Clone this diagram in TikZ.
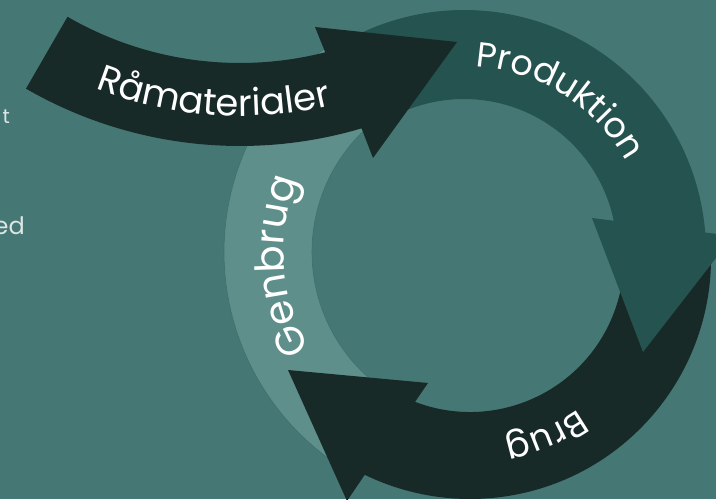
\documentclass[tikz,border=0pt]{standalone}
\usepackage{fontspec}
\usetikzlibrary{decorations.text}
\newfontfamily\pop{Poppins}
\definecolor{bg}{HTML}{457775}
\definecolor{gen}{HTML}{5E8F8B}
\definecolor{genedge}{HTML}{40706C}
\definecolor{prod}{HTML}{245350}
\definecolor{dark}{HTML}{182A28}
\definecolor{side}{HTML}{DCE6E4}
\begin{document}
\begin{tikzpicture}[x=1pt,y=1pt,
  lbl/.style 2 args={decorate, decoration={text along path, text align=center, text={|\color{white}\pop\fontsize{#1}{#1}\selectfont|#2}}},
  sidetext/.style={anchor=base east, inner sep=0pt, text=side}]
\useasboundingbox (0,0) rectangle (716,499);
\fill[bg] (0,0) rectangle (716,499);
\clip (0,0) rectangle (716,499);
\coordinate (PC) at (464,247);
\coordinate (BC) at (470,241);
\coordinate (GC) at (480,247);
\coordinate (RC) at (240,781);
% Genbrug
\filldraw[fill=gen, draw=genedge, line width=0.6pt]
  ([shift={(125:256)}]GC) arc[start angle=125, end angle=240, radius=256]
  -- ([shift={(240:168)}]GC) arc[start angle=240, end angle=125, radius=168] -- cycle;
% Brug
\fill[dark]
  ([shift={(5:241)}]BC) arc[start angle=5, end angle=-115.9, radius=241]
  -- (347,-2) -- (288,129) -- (428,116)
  -- ([shift={(-110.9:154)}]BC) arc[start angle=-110.9, end angle=5, radius=154] -- cycle;
% Produktion
\fill[prod]
  ([shift={(118:242)}]PC) arc[start angle=118, end angle=4.62, radius=242]
  -- (733,263) -- (643,147) -- (592,281)
  -- ([shift={(11.77:153)}]PC) arc[start angle=11.77, end angle=118, radius=153] -- cycle;
% Raamaterialer
\fill[dark]
  ([shift={(240:345)}]RC) arc[start angle=240, end angle=284.3, radius=345]
  -- (315,472) -- (457,457) -- (373,341)
  -- ([shift={(286.5:428)}]RC) arc[start angle=286.5, end angle=240, radius=428] -- cycle;
% labels
\path[lbl={37}{Råmaterialer}] ([shift={(-128:398)}]RC) arc[start angle=-128, end angle=-60, radius=398];
\path[lbl={35}{Produktion}] ([shift={(97.75:186)}]PC) arc[start angle=97.75, end angle=17.75, radius=186];
\path[lbl={35}{Brug}] ([shift={(-36.8:186)}]BC) arc[start angle=-36.8, end angle=-96.8, radius=186];
\path[lbl={40}{Genbrug}] ([shift={(229.1:196)}]GC) arc[start angle=229.1, end angle=139.1, radius=196];
% cut-off side text
\node[sidetext, font=\pop\fontsize{20}{24}\selectfont] (tt) at (10,375) {t};
\node[sidetext, font=\pop\fontsize{24}{28}\selectfont] (ed) at (25,264) {ed};
\end{tikzpicture}
\end{document}
